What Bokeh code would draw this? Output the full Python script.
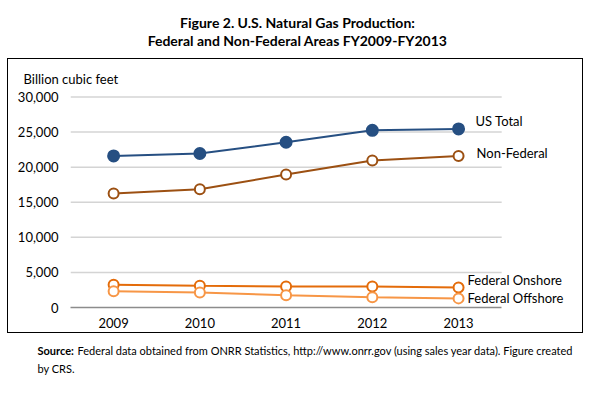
from bokeh.plotting import figure
from bokeh.layouts import column
from bokeh.models import Range1d, Label, NumeralTickFormatter, FixedTicker
from bokeh.core.properties import value
from bokeh.embed import file_html
from bokeh.resources import INLINE

years = ["2009", "2010", "2011", "2012", "2013"]
us_total = [21600, 21950, 23550, 25250, 25450]
non_federal = [16250, 16850, 18950, 20950, 21600]
fed_onshore = [3250, 3100, 3000, 3000, 2850]
fed_offshore = [2300, 2150, 1750, 1450, 1300]
y_ticks = [0, 5000, 10000, 15000, 20000, 25000, 30000]

series_names = ["US Total", "Non-Federal", "Federal Onshore", "Federal Offshore"]
series_vals = [us_total, non_federal, fed_onshore, fed_offshore]
colors = ["#264f82", "#9c5012", "#e46c0a", "#f79646"]
filled = [True, False, False, False]
lab_dx = [17, 18, 9, 9]
lab_dy = [-8, -3, -8, 0]

FONT = "Lato"
xs = list(range(len(years)))


def blank(h):
    f = figure(width=595, height=h, x_range=Range1d(0, 595), y_range=Range1d(h, 0),
               x_axis_type=None, y_axis_type=None, output_backend="svg",
               toolbar_location=None, min_border_left=0, min_border_right=0,
               min_border_top=0, min_border_bottom=0)
    f.outline_line_color = None
    f.grid.visible = False
    return f


# header with the title
head = blank(58)
head.add_layout(Label(x=297, y=22, text="Figure 2. U.S. Natural Gas Production:", text_font=FONT,
                      text_font_style="bold", text_font_size="14px", text_align="center",
                      text_baseline="middle", text_color="black"))
head.add_layout(Label(x=297, y=40, text="Federal and Non-Federal Areas FY2009-FY2013",
                      text_font=FONT, text_font_style="bold", text_font_size="14px",
                      text_align="center", text_baseline="middle", text_color="black"))

# main chart
p = figure(width=574, height=273, x_range=Range1d(-0.5, 5.414), y_range=Range1d(0, 30500),
           output_backend="svg", toolbar_location=None,
           min_border_left=62, min_border_right=2, min_border_top=34, min_border_bottom=25)
p.outline_line_color = None

p.title.text = "Billion cubic feet"
p.title.align = "left"
p.title.offset = -47
p.title.standoff = 14
p.title.text_font = FONT
p.title.text_font_style = "normal"
p.title.text_font_size = "13px"
p.title.text_color = "black"

p.yaxis.ticker = FixedTicker(ticks=y_ticks)
p.yaxis.formatter = NumeralTickFormatter(format="0,0")
p.yaxis.axis_line_color = None
p.yaxis.major_tick_line_color = None
p.yaxis.minor_tick_line_color = None
p.yaxis.major_label_standoff = 6
p.yaxis.major_label_text_font = FONT
p.yaxis.major_label_text_font_size = "13px"
p.yaxis.major_label_text_color = "black"

p.xaxis.ticker = FixedTicker(ticks=xs)
p.xaxis.major_label_overrides = {i: y for i, y in zip(xs, years)}
p.xaxis.bounds = (-0.5, len(years) - 0.5)
p.xaxis.axis_line_color = "#8c8c8c"
p.xaxis.axis_line_width = 1.5
p.xaxis.major_tick_line_color = None
p.xaxis.minor_tick_line_color = None
p.xaxis.major_label_standoff = 4
p.xaxis.major_label_text_font = FONT
p.xaxis.major_label_text_font_size = "13px"
p.xaxis.major_label_text_color = "black"

p.grid.visible = False
grid_y = y_ticks[1:]
p.segment(x0=[-0.5] * len(grid_y), x1=[len(years) - 0.5] * len(grid_y), y0=grid_y, y1=grid_y,
          line_color="#d4d4d4", line_width=1.5)

for name, vals, c, f, dx, dy in zip(series_names, series_vals, colors, filled, lab_dx, lab_dy):
    p.line(xs, vals, line_color=c, line_width=2)
    p.scatter(xs, vals, size=11 if f else 10, line_color=c, line_width=2,
              fill_color=c if f else "white")
    p.text([xs[-1]], [vals[-1]], text=[name], x_offset=dx, y_offset=dy,
           text_font=value(FONT), text_font_size="13px", text_baseline="middle",
           text_align="left", text_color="black")

box = column(p, margin=(0, 0, 0, 7), styles={"border": "1.5px solid black"})

# footer with the source note
foot = blank(59)
foot.add_layout(Label(x=37, y=17, text="Source:", text_font=FONT, text_font_style="bold",
                      text_font_size="11px", text_align="left", text_baseline="middle",
                      text_color="black"))
foot.add_layout(Label(x=77, y=17,
                      text="Federal data obtained from ONRR Statistics, http://www.onrr.gov (using sales year data). Figure created",
                      text_font=FONT, text_font_size="11px", text_align="left",
                      text_baseline="middle", text_color="black"))
foot.add_layout(Label(x=37, y=35, text="by CRS.", text_font=FONT, text_font_size="11px",
                      text_align="left", text_baseline="middle", text_color="black"))

layout = column(column(head), box, column(foot), spacing=0)
open("out.html", "w").write(file_html(layout, INLINE))
